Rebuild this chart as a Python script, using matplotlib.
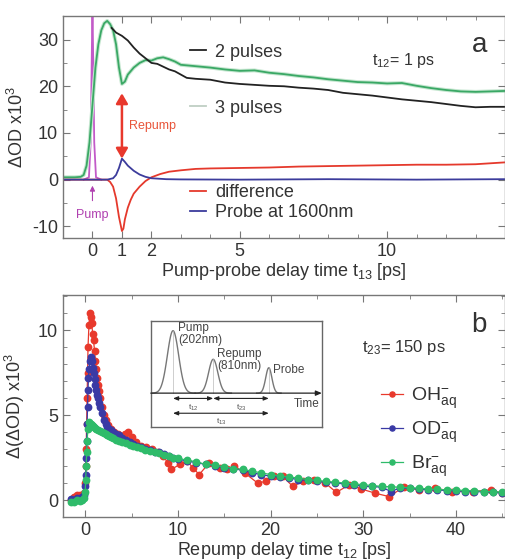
import numpy as np
import matplotlib
matplotlib.use("Agg")
import matplotlib.pyplot as plt
from matplotlib.lines import Line2D
from matplotlib.ticker import MultipleLocator, FixedLocator

plt.rcParams['font.family'] = ['Liberation Sans', 'DejaVu Sans']
plt.rcParams['mathtext.fontset'] = 'custom'
plt.rcParams['mathtext.rm'] = 'Liberation Sans'
plt.rcParams['mathtext.it'] = 'Liberation Sans:italic'
plt.rcParams['axes.unicode_minus'] = False

# ---- panel a: transient absorption, t12 = 1 ps ----
pump_t = [-0.3, -0.12, -0.06, -0.02, 0.0, 0.02, 0.06, 0.12, 0.3]
pump_y = [0.0, 0.5, 8.0, 28.0, 37.0, 28.0, 8.0, 0.5, 0.0]

three_t = [-1.0, -0.6, -0.4, -0.3, -0.2, -0.1, 0.0, 0.1, 0.2, 0.3, 0.4, 0.5, 0.6, 0.7,
           0.8, 0.9, 1.0, 1.1, 1.2, 1.4, 1.6, 1.8, 2.0, 2.2, 2.4, 2.6, 2.8, 3.0, 3.5,
           4.0, 4.5, 5.0, 5.5, 6.0, 6.5, 7.0, 7.5, 8.0, 8.5, 9.0, 9.5, 10.0, 10.5,
           11.0, 11.5, 12.0, 12.5, 13.0, 13.5, 14.0]
three_y = [0.5, 0.5, 0.6, 1.0, 3.0, 8.0, 16.0, 24.0, 29.0, 32.0, 33.5, 34.0, 33.3, 32.0,
           29.0, 24.0, 20.5, 21.0, 22.5, 24.0, 25.0, 25.6, 25.5, 26.0, 26.2, 25.8, 25.3,
           24.6, 24.3, 24.0, 23.6, 23.3, 23.4, 22.9, 22.6, 22.2, 21.9, 21.5, 21.2, 20.9,
           20.8, 20.6, 20.7, 20.1, 19.6, 19.2, 18.9, 18.8, 18.9, 19.0]

two_t = [0.65, 0.8, 1.0, 1.2, 1.4, 1.6, 1.8, 2.0, 2.2, 2.4, 2.6, 2.8, 3.0, 3.2, 3.5,
         4.0, 4.5, 5.0, 5.5, 6.0, 6.5, 7.0, 7.5, 8.0, 8.5, 9.0, 9.5, 10.0, 10.5, 11.0,
         11.5, 12.0, 12.5, 13.0, 13.5, 14.0]
two_y = [32.5, 31.5, 30.8, 29.8, 28.3, 27.0, 26.0, 25.0, 24.8, 24.2, 23.6, 23.2, 22.5,
         21.8, 21.6, 21.4, 20.8, 20.5, 20.3, 20.1, 20.0, 19.7, 19.5, 19.2, 18.6, 18.3,
         18.0, 17.6, 17.2, 16.9, 16.6, 16.2, 15.8, 15.5, 15.6, 15.6]

diff_t = [-1.0, 0.5, 0.6, 0.7, 0.8, 0.9, 1.0, 1.05, 1.1, 1.2, 1.3, 1.4, 1.6, 1.8, 2.0,
          2.3, 2.6, 3.0, 3.5, 4.0, 5.0, 6.0, 7.0, 8.0, 9.0, 10.0, 11.0, 12.0, 13.0, 14.0]
diff_y = [0.0, 0.0, -0.5, -1.5, -4.0, -8.0, -11.0, -10.5, -8.5, -6.0, -4.3, -3.0, -1.5,
          -0.3, 0.5, 1.2, 1.7, 2.0, 2.3, 2.4, 2.5, 2.6, 2.8, 2.9, 3.0, 3.1, 3.2, 3.2,
          3.3, 3.7]

probe_t = [-1.0, 0.5, 0.7, 0.8, 0.9, 1.0, 1.1, 1.2, 1.4, 1.6, 1.8, 2.0, 2.5, 3.0, 5.0,
           8.0, 11.0, 14.0]
probe_y = [0.0, 0.0, 0.3, 1.0, 2.5, 4.5, 3.8, 3.0, 1.9, 1.1, 0.6, 0.3, 0.1, 0.05, 0.0,
           0.1, 0.0, 0.1]

# ---- panel b: repump signal vs t12, t23 = 150 ps ----
oh_pts = [(-1.5, 0.0), (-1.2, 0.2), (-0.9, 0.3), (-0.6, 0.3), (-0.3, 0.25), (-0.1, 0.4),
          (0.0, 1.0), (0.05, 2.0), (0.1, 3.0), (0.15, 4.5), (0.2, 6.0), (0.25, 7.5),
          (0.3, 9.0), (0.4, 10.3), (0.5, 11.0), (0.6, 10.8), (0.7, 10.4), (0.8, 9.8),
          (0.9, 9.4), (1.0, 8.8), (1.1, 8.2), (1.2, 7.7), (1.3, 7.2), (1.4, 6.8),
          (1.5, 6.4), (1.6, 6.0), (1.8, 5.5), (2.0, 5.0), (2.2, 4.7), (2.5, 4.4),
          (2.8, 4.2), (3.1, 4.0), (3.5, 3.9), (3.9, 3.7), (4.3, 3.9), (4.6, 4.0),
          (5.0, 3.7), (5.5, 3.4), (6.0, 3.2), (6.6, 3.1), (7.2, 3.0), (7.8, 2.8),
          (8.4, 2.6), (8.9, 2.2), (9.3, 1.8), (10.2, 2.1), (11.0, 2.3), (11.6, 1.9),
          (12.3, 1.5), (13.4, 2.2), (14.5, 1.9), (15.3, 1.8), (16.1, 2.0), (17.2, 1.6),
          (18.6, 1.0), (19.5, 1.1), (20.4, 1.4), (21.3, 1.4), (22.4, 0.8), (23.5, 1.1),
          (24.7, 1.2), (25.9, 1.0), (27.1, 0.45), (28.5, 0.9), (29.8, 0.65), (31.3, 0.4),
          (32.8, 0.2), (34.4, 0.78), (36.0, 0.6), (37.8, 0.7), (39.6, 0.5), (41.8, 0.5),
          (43.8, 0.6), (45.0, 0.4)]

od_pts = [(-1.5, 0.05), (-1.2, 0.0), (-0.9, 0.1), (-0.6, 0.1), (-0.3, 0.15), (-0.1, 0.3),
          (0.0, 0.8), (0.05, 1.5), (0.1, 2.5), (0.15, 3.5), (0.2, 4.5), (0.25, 5.5),
          (0.3, 6.5), (0.35, 7.2), (0.4, 7.7), (0.5, 8.2), (0.6, 8.4), (0.7, 8.2),
          (0.8, 7.8), (0.9, 7.5), (1.0, 7.1), (1.1, 6.8), (1.2, 6.5), (1.3, 6.2),
          (1.4, 6.0), (1.5, 5.7), (1.6, 5.5), (1.8, 5.1), (2.0, 4.7), (2.2, 4.5),
          (2.4, 4.3), (2.6, 4.2), (2.8, 4.1), (3.0, 4.0), (3.3, 3.9), (3.6, 3.8),
          (4.0, 3.65), (4.4, 3.55), (4.8, 3.4), (5.2, 3.3), (5.6, 3.2), (6.0, 3.1),
          (6.5, 3.0), (7.0, 2.95), (7.5, 2.85), (8.0, 2.8), (8.5, 2.7), (9.0, 2.6),
          (9.5, 2.5), (10.0, 2.4), (11.0, 2.3), (12.0, 2.2), (13.0, 2.1), (14.0, 2.0),
          (15.0, 1.9), (16.0, 1.85), (17.0, 1.75), (18.0, 1.6), (19.0, 1.5), (20.0, 1.4),
          (21.0, 1.35), (22.0, 1.3), (23.0, 1.2), (24.0, 1.15), (25.0, 1.1), (26.0, 1.05),
          (27.0, 1.0), (28.0, 0.95), (29.0, 0.9), (30.0, 0.8), (31.0, 0.8), (32.0, 0.75),
          (33.0, 0.5), (34.0, 0.72), (35.0, 0.68), (36.0, 0.65), (37.0, 0.6), (38.0, 0.6),
          (39.0, 0.55), (40.0, 0.55), (41.0, 0.5), (42.0, 0.5), (43.0, 0.48), (44.0, 0.45),
          (45.0, 0.42)]

br_pts = [(-1.5, -0.1), (-1.2, -0.1), (-0.9, 0.0), (-0.6, -0.05), (-0.3, 0.0), (-0.1, 0.1),
          (0.0, 0.5), (0.05, 1.2), (0.1, 2.0), (0.15, 2.8), (0.2, 3.5), (0.3, 4.2),
          (0.4, 4.6), (0.5, 4.5), (0.6, 4.5), (0.7, 4.4), (0.8, 4.35), (0.9, 4.3),
          (1.0, 4.25), (1.2, 4.2), (1.4, 4.1), (1.6, 4.05), (1.8, 4.0), (2.0, 3.95),
          (2.2, 3.9), (2.4, 3.8), (2.6, 3.75), (2.8, 3.7), (3.0, 3.65), (3.3, 3.55),
          (3.6, 3.5), (4.0, 3.4), (4.4, 3.35), (4.8, 3.25), (5.2, 3.2), (5.6, 3.1),
          (6.0, 3.05), (6.5, 2.95), (7.0, 2.9), (7.5, 2.8), (8.0, 2.75), (8.5, 2.65),
          (9.0, 2.6), (9.5, 2.5), (10.0, 2.45), (11.0, 2.35), (12.0, 2.25), (13.0, 2.1),
          (14.0, 2.05), (15.0, 1.95), (16.0, 1.85), (17.0, 1.8), (18.0, 1.7), (19.0, 1.6),
          (20.0, 1.5), (21.0, 1.4), (22.0, 1.35), (23.0, 1.3), (24.0, 1.2), (25.0, 1.15),
          (26.0, 1.1), (27.0, 1.05), (28.0, 1.0), (29.0, 0.95), (30.0, 0.9), (31.0, 0.85),
          (32.0, 0.8), (33.0, 0.78), (34.0, 0.75), (35.0, 0.72), (36.0, 0.7), (37.0, 0.65),
          (38.0, 0.62), (39.0, 0.6), (40.0, 0.6), (41.0, 0.55), (42.0, 0.55), (43.0, 0.5),
          (44.0, 0.5), (45.0, 0.45)]

# inset schematic: pulse centre, height, width (axes fractions)
pulse_names = ["Pump", "Repump", "Probe"]
pulse_pos = [0.13, 0.365, 0.69]
pulse_height = [0.59, 0.32, 0.24]
pulse_width = [0.033, 0.027, 0.018]
inset_base = 0.32

spine_c = '#777777'
text_c = '#333333'

fig = plt.figure(figsize=(5.06, 5.6), dpi=100)
axa = fig.add_axes([0.1245, 0.575, 0.8735, 0.396])
axb = fig.add_axes([0.1245, 0.0768, 0.8735, 0.396])

for ax in (axa, axb):
    for s in ax.spines.values():
        s.set_color(spine_c)
        s.set_linewidth(1.0)
    ax.tick_params(which='both', direction='in', top=True, right=True,
                   colors=spine_c, labelcolor=text_c, labelsize=13)
    ax.tick_params(which='major', length=5)
    ax.tick_params(which='minor', length=3)

# ---- panel a ----
axa.plot(pump_t, pump_y, color='#c25ac8', lw=1.3)
axa.plot(three_t, three_y, color='#c4e6cf', lw=2.8)
axa.plot(three_t, three_y, color='#3aa865', lw=1.3)
h2, = axa.plot(two_t, two_y, color='#222222', lw=1.3)
hd, = axa.plot(diff_t, diff_y, color='#e5392c', lw=1.3)
hp, = axa.plot(probe_t, probe_y, color='#3c3c9c', lw=1.3)
h3 = Line2D([], [], color='#bfcfc4', lw=1.3)

axa.set_xlim(-1, 14)
axa.set_ylim(-12.5, 35)
axa.xaxis.set_major_locator(FixedLocator([0, 1, 2, 5, 10]))
axa.xaxis.set_minor_locator(MultipleLocator(1))
axa.yaxis.set_major_locator(MultipleLocator(10))
axa.yaxis.set_minor_locator(MultipleLocator(5))
axa.set_xlabel(r'Pump-probe delay time t$_{\mathrm{13}}$ [ps]', fontsize=13, color=text_c, labelpad=1)
axa.set_ylabel(r'ΔOD x10$^{\mathrm{3}}$', fontsize=13, color=text_c, labelpad=4)

leg_kw = dict(frameon=False, handlelength=0.9, handletextpad=0.5, borderpad=0,
              borderaxespad=0, loc='center left', fontsize=13, labelcolor=text_c)
l1 = axa.legend([h2], ['2 pulses'], bbox_to_anchor=(0.287, 0.838), **leg_kw)
axa.add_artist(l1)
l2 = axa.legend([h3], ['3 pulses'], bbox_to_anchor=(0.287, 0.586), **leg_kw)
axa.add_artist(l2)
axa.legend([hd, hp], ['difference', 'Probe at 1600nm'], bbox_to_anchor=(0.287, 0.16),
           labelspacing=0.15, **leg_kw)

axa.annotate('', xy=(1, 18.5), xytext=(1, 4.5),
             arrowprops=dict(arrowstyle='<|-|>,head_width=0.35,head_length=0.6',
                             color='#e8382c', lw=1.8, shrinkA=0, shrinkB=0))
axa.text(1.25, 11.5, 'Repump', color='#e8553a', fontsize=9, va='center')
axa.annotate('', xy=(0, -1.3), xytext=(0, -4.5),
             arrowprops=dict(arrowstyle='-|>,head_width=0.15,head_length=0.3',
                             color='#b040b0', lw=0.8, shrinkA=0, shrinkB=0))
axa.text(0, -7.6, 'Pump', color='#b040b0', fontsize=9, ha='center', va='center')
axa.text(0.70, 0.80, r't$_{\mathrm{12}}$= 1 ps', transform=axa.transAxes, fontsize=11.5,
         color=text_c, va='center')
axa.text(0.943, 0.87, 'a', transform=axa.transAxes, fontsize=20, color=text_c,
         ha='center', va='center')

# ---- panel b ----
series = [(oh_pts, '#e8392c', r'OH$^{\mathrm{-}}_{\mathrm{aq}}$'),
          (od_pts, '#3a3aa5', r'OD$^{\mathrm{-}}_{\mathrm{aq}}$'),
          (br_pts, '#2fbb6a', r'Br$^{\mathrm{-}}_{\mathrm{aq}}$')]
handles = []
for pts, col, lab in series:
    xs, ys = np.array(pts).T
    h, = axb.plot(xs, ys, color=col, lw=0.9, marker='o', ms=4.6, mec=col, mfc=col,
                  label=lab)
    handles.append(h)

axb.set_xlim(-2.4, 45.3)
axb.set_ylim(-1.0, 12.06)
axb.xaxis.set_major_locator(MultipleLocator(10))
axb.xaxis.set_minor_locator(MultipleLocator(5))
axb.yaxis.set_major_locator(MultipleLocator(5))
axb.yaxis.set_minor_locator(MultipleLocator(1))
axb.set_xlabel(r'Repump delay time t$_{\mathrm{12}}$ [ps]', fontsize=13, color=text_c, labelpad=1)
axb.set_ylabel(r'Δ(ΔOD) x10$^{\mathrm{3}}$', fontsize=13, color=text_c, labelpad=8)
axb.legend(handles=handles, frameon=False, handlelength=1.1, handletextpad=0.45,
           borderpad=0, borderaxespad=0, loc='center left', bbox_to_anchor=(0.72, 0.383),
           fontsize=14, labelspacing=0.45, labelcolor=text_c, markerscale=0.8)
axb.text(0.676, 0.766, r't$_{\mathrm{23}}$= 150 ps', transform=axb.transAxes, fontsize=12,
         color=text_c, va='center')
axb.text(0.94, 0.865, 'b', transform=axb.transAxes, fontsize=20, color=text_c,
         ha='center', va='center')

# inset schematic
axi = fig.add_axes([0.298, 0.2375, 0.338, 0.189])
axi.set_xlim(0, 1)
axi.set_ylim(0, 1)
axi.set_xticks([])
axi.set_yticks([])
for s in axi.spines.values():
    s.set_color('#666666')
    s.set_linewidth(1.0)
tt = np.linspace(0, 1, 400)
for c, a, w in zip(pulse_pos, pulse_height, pulse_width):
    m = np.abs(tt - c) < 4 * w
    axi.plot(tt[m], inset_base + a * np.exp(-0.5 * ((tt[m] - c) / w) ** 2), color='#777777', lw=1.0)
    axi.plot([c, c], [inset_base, inset_base + a], color='#bbbbbb', lw=0.5)
axi.annotate('', xy=(1.0, inset_base), xytext=(0.0, inset_base),
             arrowprops=dict(arrowstyle='-|>,head_width=0.15,head_length=0.35',
                             color='#222222', lw=0.9, shrinkA=0, shrinkB=0),
             annotation_clip=False)
arr = dict(arrowstyle='<|-|>,head_width=0.12,head_length=0.3', color='#222222', lw=0.8,
           shrinkA=0, shrinkB=0)
axi.annotate('', xy=(pulse_pos[1], 0.27), xytext=(pulse_pos[0], 0.27), arrowprops=arr)
axi.annotate('', xy=(pulse_pos[2], 0.27), xytext=(pulse_pos[1], 0.27), arrowprops=arr)
axi.annotate('', xy=(pulse_pos[2], 0.13), xytext=(pulse_pos[0], 0.13), arrowprops=arr)
axi.text((pulse_pos[0] + pulse_pos[1]) / 2, 0.18, r't$_{\mathrm{12}}$', fontsize=6,
         ha='center', va='center', color='#555555')
axi.text((pulse_pos[1] + pulse_pos[2]) / 2, 0.18, r't$_{\mathrm{23}}$', fontsize=6,
         ha='center', va='center', color='#555555')
axi.text((pulse_pos[0] + pulse_pos[2]) / 2, 0.05, r't$_{\mathrm{13}}$', fontsize=6,
         ha='center', va='center', color='#555555')
axi.text(0.16, 0.99, 'Pump\n(202nm)', fontsize=8.5, va='top', color='#444444',
         linespacing=1.0)
axi.text(0.39, 0.75, 'Repump\n(810nm)', fontsize=8.5, va='top', color='#444444',
         linespacing=1.0)
axi.text(0.713, 0.54, 'Probe', fontsize=8.5, va='center', color='#444444')
axi.text(0.836, 0.22, 'Time', fontsize=8.5, va='center', color='#444444')

fig.savefig('out.png', dpi=100)
